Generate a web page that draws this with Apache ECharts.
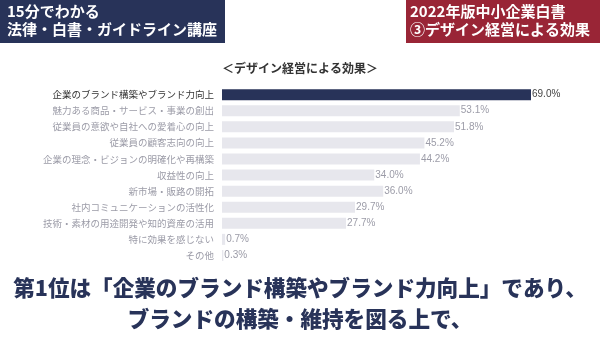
<!DOCTYPE html>
<html>
<head>
<meta charset="utf-8">
<script src="https://cdn.jsdelivr.net/npm/echarts@6/dist/echarts.min.js"></script>
<style>
  html, body { margin: 0; padding: 0; background: #ffffff; }
  #chart { width: 600px; height: 338px; }
</style>
</head>
<body>
<div id="chart"></div>
<script>
// Effects of design management (2022 SME White Paper), top to bottom
const categories = [
  '企業のブランド構築やブランド力向上',
  '魅力ある商品・サービス・事業の創出',
  '従業員の意欲や自社への愛着心の向上',
  '従業員の顧客志向の向上',
  '企業の理念・ビジョンの明確化や再構築',
  '収益性の向上',
  '新市場・販路の開拓',
  '社内コミュニケーションの活性化',
  '技術・素材の用途開発や知的資産の活用',
  '特に効果を感じない',
  'その他'
];
const values = [69.0, 53.1, 51.8, 45.2, 44.2, 34.0, 36.0, 29.7, 27.7, 0.7, 0.3];
const highlightIndex = 0;

const headerLeft = ['15分でわかる', '法律・白書・ガイドライン講座'];
const headerRight = ['2022年版中小企業白書', '③デザイン経営による効果'];
const chartTitle = '＜デザイン経営による効果＞';
const caption = ['第1位は「企業のブランド構築やブランド力向上」であり、', 'ブランドの構築・維持を図る上で、'];

const NAVY = '#283359';
const RED = '#992536';
const JP = '"Noto Sans CJK JP", "Noto Sans", sans-serif';
const NUM = '"Liberation Sans", Arial, sans-serif';

const chart = echarts.init(document.getElementById('chart'), null, { renderer: 'canvas' });

chart.setOption({
  backgroundColor: '#ffffff',
  animation: false,
  grid: { left: 222, right: 69, top: 86.6, bottom: 74.5, containLabel: false },
  xAxis: {
    type: 'value', min: 0, max: 69,
    show: false
  },
  yAxis: {
    type: 'category',
    inverse: true,
    data: categories,
    axisLine: { show: false },
    axisTick: { show: false },
    axisLabel: {
      margin: 8,
      fontFamily: JP,
      fontSize: 9.5,
      color: (v, i) => i === highlightIndex ? '#333333' : '#9c9ca8'
    }
  },
  series: [{
    type: 'bar',
    data: values.map((v, i) => ({
      value: v,
      itemStyle: { color: i === highlightIndex ? NAVY : '#e7e7ed' },
      label: { color: i === highlightIndex ? '#444444' : '#9c9ca8' }
    })),
    barWidth: 11,
    label: {
      show: true,
      position: 'right',
      distance: 1,
      fontFamily: NUM,
      fontSize: 10,
      formatter: p => p.value.toFixed(1) + '%'
    }
  }],
  graphic: [
    { type: 'rect', shape: { x: 0, y: 0, width: 225, height: 43 }, style: { fill: NAVY } },
    { type: 'text', left: 7, top: 4, style: { text: headerLeft[0], fill: '#fff', font: 'bold 15px ' + JP } },
    { type: 'text', left: 7, top: 22, style: { text: headerLeft[1], fill: '#fff', font: 'bold 15px ' + JP } },
    { type: 'rect', shape: { x: 406, y: 0, width: 194, height: 43 }, style: { fill: RED } },
    { type: 'text', left: 410, top: 4, style: { text: headerRight[0], fill: '#fff', font: 'bold 15px ' + JP } },
    { type: 'text', left: 410, top: 22, style: { text: headerRight[1], fill: '#fff', font: 'bold 15px ' + JP } },
    { type: 'text', x: 300, y: 68, style: { text: chartTitle, fill: '#333', font: 'bold 12px ' + JP, align: 'center', verticalAlign: 'middle' } },
    { type: 'text', x: 300, y: 288, style: { text: caption[0], fill: NAVY, font: '900 21.6px ' + JP, align: 'center', verticalAlign: 'middle' } },
    { type: 'text', x: 300, y: 319, style: { text: caption[1], fill: NAVY, font: '900 21.6px ' + JP, align: 'center', verticalAlign: 'middle' } }
  ]
});
</script>
</body>
</html>
